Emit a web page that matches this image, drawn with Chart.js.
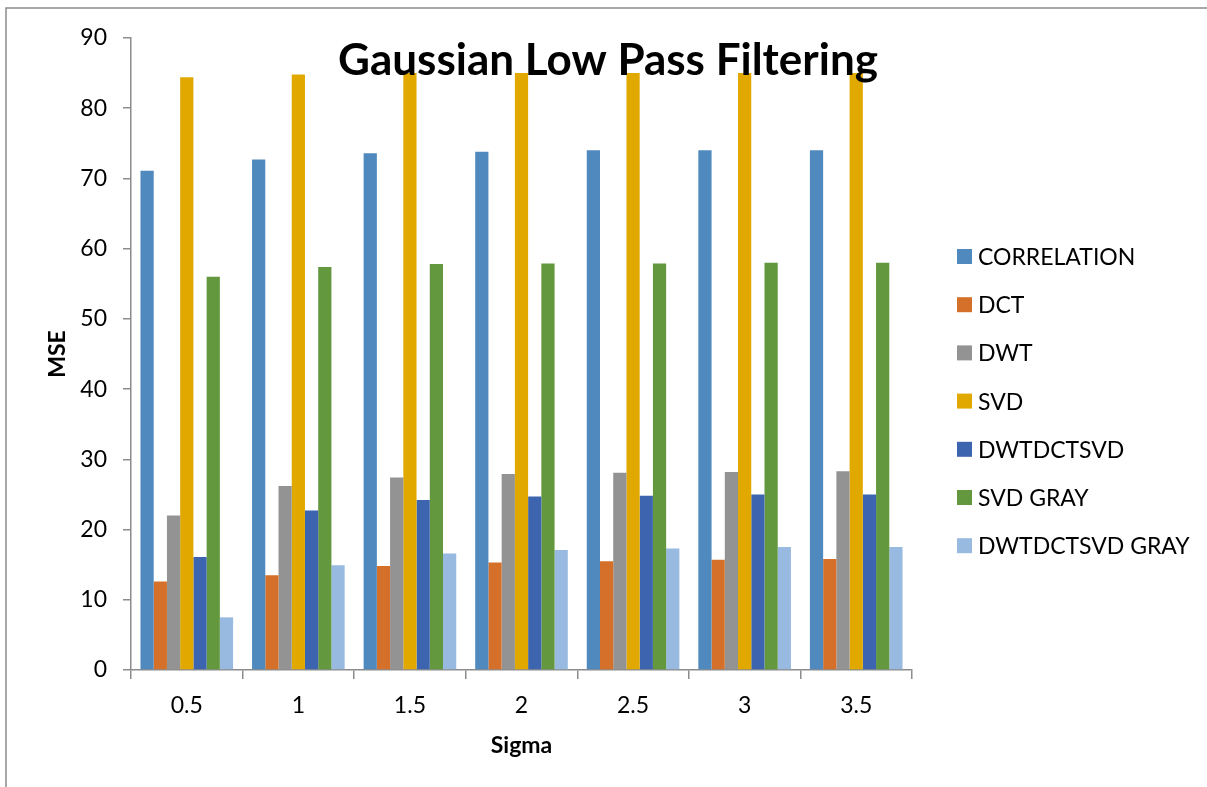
<!DOCTYPE html>
<html>
<head>
<meta charset="utf-8">
<script src="https://cdn.jsdelivr.net/npm/chart.js@4/dist/chart.umd.min.js"></script>
<style>
  html, body { margin: 0; padding: 0; background: #fff; }
  #wrap { position: relative; width: 1207px; height: 787px; }
</style>
</head>
<body>
<div id="wrap"><canvas id="chart" width="1207" height="787"></canvas></div>
<script>
// Sigma values along the x axis
const sigma = ['0.5', '1', '1.5', '2', '2.5', '3', '3.5'];

// MSE per method
const correlation   = [71.1, 72.7, 73.6, 73.8, 74.0, 74.0, 74.0];
const dct           = [12.6, 13.5, 14.8, 15.3, 15.5, 15.7, 15.8];
const dwt           = [22.0, 26.2, 27.4, 27.9, 28.1, 28.2, 28.3];
const svd           = [84.4, 84.8, 85.0, 85.0, 85.0, 85.0, 85.0];
const dwtdctsvd     = [16.1, 22.7, 24.2, 24.7, 24.8, 25.0, 25.0];
const svdGray       = [56.0, 57.4, 57.8, 57.9, 57.9, 58.0, 58.0];
const dwtdctsvdGray = [7.5, 14.9, 16.6, 17.1, 17.3, 17.5, 17.5];

const seriesNames  = ['CORRELATION', 'DCT', 'DWT', 'SVD', 'DWTDCTSVD', 'SVD GRAY', 'DWTDCTSVD GRAY'];
const seriesValues = [correlation, dct, dwt, svd, dwtdctsvd, svdGray, dwtdctsvdGray];
const seriesColors = ['#4F89BD', '#D5702B', '#939393', '#E1A900', '#3D64AE', '#63983F', '#99BAE0'];

const yTicks = { min: 0, max: 90, step: 10 };

const FONT = 'Lato, "Open Sans", sans-serif';
const AXIS_GRAY = '#8c8c8c';

// Outer frame, overlaid title and the right-hand legend column
const decorPlugin = {
  id: 'decor',
  beforeDraw(chart) {
    const ctx = chart.ctx;
    ctx.save();
    ctx.fillStyle = '#fff';
    ctx.fillRect(0, 0, chart.width, chart.height);
    ctx.strokeStyle = AXIS_GRAY;
    ctx.lineWidth = 1.5;
    ctx.beginPath();
    ctx.moveTo(6, chart.height);
    ctx.lineTo(6, 8);
    ctx.lineTo(chart.width, 8);
    ctx.stroke();
    ctx.restore();
  },
  afterDatasetsDraw(chart) {
    const ctx = chart.ctx;
    ctx.save();
    ctx.fillStyle = '#000';
    ctx.font = 'bold 44px ' + FONT;
    ctx.textAlign = 'center';
    ctx.textBaseline = 'alphabetic';
    ctx.fillText('Gaussian Low Pass Filtering', 608, 75);

    // legend
    const boxX = 957, firstTop = 249, step = 48.2, box = 15;
    ctx.font = '23px ' + FONT;
    ctx.textAlign = 'left';
    ctx.textBaseline = 'middle';
    chart.data.datasets.forEach((ds, i) => {
      const top = firstTop + step * i;
      ctx.fillStyle = ds.backgroundColor;
      ctx.fillRect(boxX, top, box, box);
      ctx.fillStyle = '#000';
      ctx.fillText(ds.label, 978, top + box / 2 + 1);
    });
    ctx.restore();
  }
};

new Chart(document.getElementById('chart'), {
  type: 'bar',
  data: {
    labels: sigma,
    datasets: seriesNames.map((name, i) => ({
      label: name,
      data: seriesValues[i],
      backgroundColor: seriesColors[i],
      borderWidth: 0,
      categoryPercentage: 0.83,
      barPercentage: 1.0
    }))
  },
  options: {
    responsive: false,
    animation: false,
    layout: { padding: { top: 38, left: 0, right: 295, bottom: 0 } },
    plugins: {
      title: { display: false },
      tooltip: { enabled: false },
      legend: { display: false }
    },
    scales: {
      x: {
        afterFit(scale) { scale.height = 117; },
        grid: {
          display: true,
          drawOnChartArea: false,
          drawTicks: true,
          tickLength: 9,
          color: AXIS_GRAY,
          lineWidth: 1.5,
          offset: true
        },
        border: { display: true, color: AXIS_GRAY, width: 1.5 },
        ticks: { color: '#000', font: { family: FONT, size: 23 }, padding: 13, maxRotation: 0 },
        title: {
          display: true,
          text: 'Sigma',
          color: '#000',
          font: { family: FONT, size: 23, weight: 'bold' },
          padding: { top: 0, bottom: 28 }
        }
      },
      y: {
        min: yTicks.min,
        max: yTicks.max,
        afterFit(scale) { scale.width = 131; },
        ticks: {
          stepSize: yTicks.step,
          color: '#000',
          font: { family: FONT, size: 23 },
          padding: 16
        },
        grid: {
          display: true,
          drawOnChartArea: false,
          drawTicks: true,
          tickLength: 8,
          color: AXIS_GRAY,
          lineWidth: 1.5
        },
        border: { display: true, color: AXIS_GRAY, width: 1.5 },
        title: {
          display: true,
          text: 'MSE',
          color: '#000',
          font: { family: FONT, size: 23, weight: 'bold' },
          padding: { top: 44, bottom: 0 }
        }
      }
    }
  },
  plugins: [decorPlugin]
});
</script>
</body>
</html>
